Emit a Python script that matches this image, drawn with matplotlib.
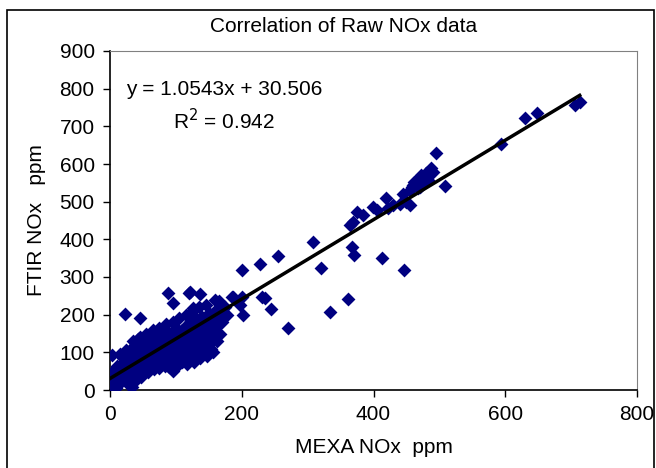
import numpy as np
import matplotlib.pyplot as plt
from matplotlib.patches import Rectangle

plt.rcParams['font.family'] = ['Liberation Sans', 'DejaVu Sans']

# --------------------
# Data (MEXA vs FTIR NOx, ppm)
# --------------------
# dense low-concentration band
mexa_low = [0, 2, 3, 5, 4, 6, 8, 10, 12, 10, 14, 15, 18, 20, 20, 22, 25, 25, 28, 30,
            30, 32, 35, 35, 38, 38, 40, 40, 42, 45, 45, 48, 50, 50, 52, 55, 55, 58, 58, 60,
            60, 62, 65, 65, 68, 68, 70, 70, 72, 72, 75, 75, 78, 78, 80, 80, 82, 85, 85, 85,
            88, 88, 90, 90, 92, 92, 95, 95, 98, 98, 100, 100, 100, 102, 105, 105, 108, 108, 110, 110,
            112, 112, 115, 115, 118, 118, 120, 120, 122, 125, 125, 128, 128, 130, 130, 132, 135, 135, 138, 138,
            140, 140, 142, 145, 145, 148, 150, 150, 152, 155, 155, 158, 160, 162, 165, 168, 170, 175, 178,
            1, 3, 7, 9, 16, 24, 27, 33, 36, 44, 47, 53, 57, 63, 67, 74, 77, 84, 87, 93,
            96, 103, 107, 113, 117, 123, 127, 133, 137, 143, 147, 153, 157, 163, 167,
            15, 25, 35, 45, 55, 65, 75, 85, 95, 105, 115, 125, 135, 145, 160, 165, 170]
ftir_low = [20, 35, 10, 45, 0, 28, 55, 40, 15, 65, 30, 50, 70, 45, 85, 60, 30, 75, 95, 55,
            80, 110, 65, 90, 45, 120, 75, 100, 135, 85, 60, 110, 95, 130, 70, 105, 120, 85, 140, 100,
            115, 75, 125, 95, 110, 145, 85, 130, 100, 155, 115, 70, 135, 95, 120, 145, 80, 105, 130, 160,
            90, 115, 140, 60, 125, 100, 150, 50, 110, 135, 85, 165, 60, 120, 145, 95, 130, 110, 75, 160,
            140, 100, 125, 170, 90, 150, 135, 110, 180, 145, 100, 160, 120, 85, 190, 140, 110, 170, 150, 125,
            195, 95, 160, 135, 115, 175, 150, 205, 125, 185, 160, 140, 210, 170, 195, 215, 180, 220, 200,
            5, 30, 18, 5, 22, 40, 15, 38, 20, 48, 35, 55, 48, 60, 55, 58, 75, 65, 75, 70,
            80, 70, 80, 85, 70, 90, 75, 95, 85, 100, 90, 110, 100, 130, 150,
            95, 105, 130, 140, 150, 160, 165, 175, 180, 190, 200, 210, 220, 225, 240, 235, 225]

# scattered outliers and the mid/high-concentration points
mexa_high = [3, 33, 23, 46, 88, 96, 121, 137, 126, 120, 185, 187, 197, 200, 202, 231, 235, 244, 270, 200,
             228, 255, 308, 320, 334, 361, 364, 369, 367, 370, 375, 384, 399, 405, 413, 419, 422, 430, 445, 446,
             455, 450, 440, 455, 460, 465, 470, 475, 480, 485, 490, 470, 478, 462, 488, 472, 483, 468, 458, 495,
             509, 593, 630, 648, 706, 713]
ftir_high = [93, 8, 202, 191, 258, 230, 260, 255, 218, 258, 247, 247, 226, 247, 199, 247, 244, 215, 165, 319,
             334, 356, 393, 324, 207, 242, 438, 446, 380, 358, 473, 465, 486, 478, 350, 510, 483, 491, 520, 319,
             491, 500, 495, 530, 545, 555, 560, 550, 575, 570, 580, 540, 565, 552, 590, 572, 558, 535, 540, 629,
             542, 653, 722, 735, 757, 765]

slope = 1.0543
intercept = 30.506

mexa = np.array(mexa_low + mexa_high)
ftir = np.array(ftir_low + ftir_high)

# --------------------
# Plot
# --------------------
fig = plt.figure(figsize=(6.56, 4.68), dpi=100)
ax = fig.add_axes([110 / 656, 78 / 468, 527 / 656, 339 / 468])

ax.scatter(mexa, ftir, marker='D', s=50, color='#000080', linewidths=0, zorder=3)

xfit = np.array([0, mexa.max()])
ax.plot(xfit, slope * xfit + intercept, color='black', linewidth=2.5, zorder=4)

ax.set_xlim(0, 800)
ax.set_ylim(0, 900)
ax.set_xticks(np.arange(0, 801, 200))
ax.set_yticks(np.arange(0, 901, 100))
ax.tick_params(direction='out', length=5, width=1, labelsize=15, pad=6)

for side in ['top', 'right']:
    ax.spines[side].set_color('#808080')
for side in ['left', 'bottom']:
    ax.spines[side].set_color('black')
    ax.spines[side].set_linewidth(1.2)

ax.set_xlabel("MEXA NOx  ppm", fontsize=15, labelpad=10)
ax.set_ylabel("FTIR NOx   ppm", fontsize=15, labelpad=10)
fig.text(344 / 656, 1 - 27 / 468, "Correlation of Raw NOx data", fontsize=15,
         ha='center', va='center')

ax.text(0.03, 0.87, "y = 1.0543x + 30.506", transform=ax.transAxes, fontsize=15)
ax.text(0.12, 0.77, "R$^2$ = 0.942", transform=ax.transAxes, fontsize=15)

# outer chart border
fig.patches.append(Rectangle((7 / 656, -0.01), 647 / 656, 1 - 10 / 468 + 0.01,
                             transform=fig.transFigure, fill=False,
                             edgecolor='black', linewidth=1.2))

plt.savefig("out.png", dpi=100)
